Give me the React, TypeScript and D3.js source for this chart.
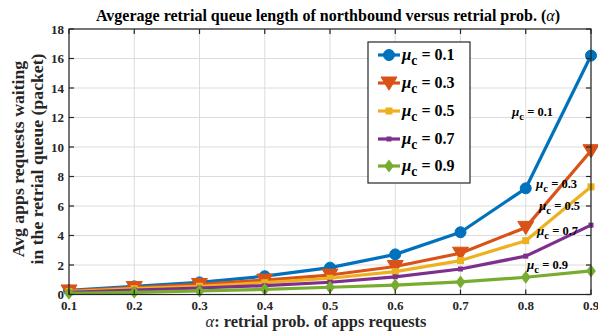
import React from "react";
import * as d3 from "d3";

const alphas = [0.1, 0.2, 0.3, 0.4, 0.5, 0.6, 0.7, 0.8, 0.9];
const mu01 = [0.28, 0.55, 0.82, 1.24, 1.82, 2.72, 4.22, 7.2, 16.2];
const mu03 = [0.24, 0.47, 0.68, 0.98, 1.32, 1.9, 2.8, 4.55, 9.75];
const mu05 = [0.2, 0.4, 0.56, 0.8, 1.1, 1.55, 2.3, 3.65, 7.3];
const mu07 = [0.15, 0.3, 0.44, 0.6, 0.83, 1.2, 1.73, 2.6, 4.7];
const mu09 = [0.08, 0.15, 0.24, 0.35, 0.49, 0.64, 0.85, 1.17, 1.6];
const muLabels = ["0.1", "0.3", "0.5", "0.7", "0.9"];
const xTicks = [0.1, 0.2, 0.3, 0.4, 0.5, 0.6, 0.7, 0.8, 0.9];
const yTicks = [0, 2, 4, 6, 8, 10, 12, 14, 16, 18];

const colors = ["#0072BD", "#D95319", "#EDB120", "#7E2F8E", "#77AC30"];
const markers = ["circle", "triangle", "square", "smallsquare", "diamond"];

const W = 598;
const H = 333;
const M = { left: 69, right: 591, top: 29, bottom: 294.5 };
const FONT = "'Liberation Serif', 'Times New Roman', serif";

function Marker({ type, x, y, color }: { type: string; x: number; y: number; color: string }) {
  switch (type) {
    case "circle":
      return <circle cx={x} cy={y} r={5.5} fill={color} stroke={color} strokeWidth={1} />;
    case "triangle": {
      const s = 8;
      return (
        <path
          d={`M${x - s},${y - s * 0.75}L${x + s},${y - s * 0.75}L${x},${y + s * 0.9}Z`}
          fill={color}
          stroke={color}
        />
      );
    }
    case "square":
      return <rect x={x - 3.5} y={y - 3.5} width={7} height={7} fill={color} />;
    case "smallsquare":
      return <rect x={x - 2.5} y={y - 2.5} width={5} height={5} fill={color} />;
    case "diamond": {
      const s = 6.5;
      return <path d={`M${x},${y - s}L${x + s * 0.75},${y}L${x},${y + s}L${x - s * 0.75},${y}Z`} fill={color} />;
    }
  }
  return null;
}

function MuText({ x, y, value, size }: { x: number; y: number; value: string; size: number }) {
  return (
    <text x={x} y={y} fontFamily={FONT} fontWeight="bold" fontSize={size} fill="#000">
      <tspan fontStyle="italic" fontSize={size * 1.05}>μ</tspan>
      <tspan dy={size * 0.3} fontSize={size * 0.85}>c</tspan>
      <tspan dy={-size * 0.3}>{` = ${value}`}</tspan>
    </text>
  );
}

export default function App() {
  const series = [mu01, mu03, mu05, mu07, mu09];
  const x = d3.scaleLinear().domain([0.1, 0.9]).range([M.left, M.right]);
  const y = d3.scaleLinear().domain([0, 18]).range([M.bottom, M.top]);
  const line = d3
    .line<number>()
    .x((_, i) => x(alphas[i]))
    .y((d) => y(d));

  const annot = [
    { x: 512, y: 116 },
    { x: 536, y: 188 },
    { x: 539, y: 210 },
    { x: 537, y: 235 },
    { x: 527, y: 269 },
  ];

  const legendX = 368;
  const legendY = 42;
  const legendRows = [55, 83, 111, 139, 166];

  return (
    <svg width={W} height={H} style={{ position: "absolute", left: 0, top: 0, background: "#fff" }}>
      <rect width={W} height={H} fill="#fff" />
      {/* grid */}
      <g stroke="#dcdcdc" strokeWidth={1}>
        {xTicks.map((t) => (
          <line key={"gx" + t} x1={x(t)} x2={x(t)} y1={M.top} y2={M.bottom} />
        ))}
        {yTicks.map((t) => (
          <line key={"gy" + t} x1={M.left} x2={M.right} y1={y(t)} y2={y(t)} />
        ))}
      </g>
      {/* series */}
      {series.map((s, k) => (
        <g key={"s" + k}>
          <path d={line(s) || ""} fill="none" stroke={colors[k]} strokeWidth={3.2} strokeLinejoin="round" />
          {s.map((v, i) => (
            <Marker key={i} type={markers[k]} x={x(alphas[i])} y={y(v)} color={colors[k]} />
          ))}
        </g>
      ))}
      {/* axes box and ticks */}
      <rect x={M.left} y={M.top} width={M.right - M.left} height={M.bottom - M.top} fill="none" stroke="#262626" strokeWidth={1.2} />
      <g stroke="#262626" strokeWidth={1.2}>
        {xTicks.map((t) => (
          <g key={"tx" + t}>
            <line x1={x(t)} x2={x(t)} y1={M.bottom} y2={M.bottom - 5} />
            <line x1={x(t)} x2={x(t)} y1={M.top} y2={M.top + 5} />
          </g>
        ))}
        {yTicks.map((t) => (
          <g key={"ty" + t}>
            <line x1={M.left} x2={M.left + 5} y1={y(t)} y2={y(t)} />
            <line x1={M.right} x2={M.right - 5} y1={y(t)} y2={y(t)} />
          </g>
        ))}
      </g>
      <g fontFamily={FONT} fontWeight="bold" fontSize={13} fill="#262626">
        {xTicks.map((t) => (
          <text key={"lx" + t} x={x(t)} y={310} textAnchor="middle">
            {t.toFixed(1)}
          </text>
        ))}
        {yTicks.map((t) => (
          <text key={"ly" + t} x={64} y={y(t) + 4.5} textAnchor="end">
            {t}
          </text>
        ))}
      </g>
      {/* title */}
      <text x={328} y={21} textAnchor="middle" fontFamily={FONT} fontWeight="bold" fontSize={16} fill="#000">
        Avgerage retrial queue length of northbound versus retrial prob. (<tspan fontStyle="italic" fontWeight="normal">α</tspan>)
      </text>
      {/* axis labels */}
      <text x={316} y={327} textAnchor="middle" fontFamily={FONT} fontWeight="bold" fontSize={16.4} fill="#262626">
        <tspan fontStyle="italic" fontWeight="normal">α</tspan>: retrial prob. of apps requests
      </text>
      <g transform="translate(24,159) rotate(-90)" fontFamily={FONT} fontWeight="bold" fontSize={17.7} fill="#262626">
        <text x={0} y={0} textAnchor="middle">Avg apps requests waiting</text>
        <text x={0} y={19} textAnchor="middle">in the retrial queue (packet)</text>
      </g>
      {/* curve annotations */}
      {annot.map((a, k) => (
        <MuText key={"a" + k} x={a.x} y={a.y} value={muLabels[k]} size={12.5} />
      ))}
      {/* legend */}
      <rect x={legendX} y={legendY} width={102} height={141} fill="#fff" stroke="#262626" strokeWidth={1.2} />
      {legendRows.map((ry, k) => (
        <g key={"lg" + k}>
          <line x1={378} x2={400} y1={ry} y2={ry} stroke={colors[k]} strokeWidth={3.2} />
          <Marker type={markers[k]} x={389} y={ry} color={colors[k]} />
          <MuText x={402} y={ry + 5} value={muLabels[k]} size={16} />
        </g>
      ))}
    </svg>
  );
}
